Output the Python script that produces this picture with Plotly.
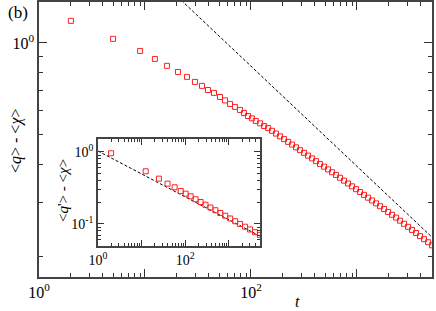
import plotly.graph_objects as go

# ---- main panel data ----
t_main = [2, 5, 9, 12.4, 16.1, 20.5, 24.9, 29.6, 34.5, 39.3, 44.8, 51.0, 56.9, 63.4, 70.6,
          78.7, 85.9, 93.7, 102, 111, 122, 133, 145, 158, 172, 188, 205, 224, 244, 266,
          290, 317, 345, 377, 411, 448, 489, 533, 582, 635, 692, 755, 824, 899, 980,
          1069, 1166, 1272, 1388, 1514, 1651, 1801, 1965, 2143, 2338, 2550, 2782, 3034,
          3310, 3611, 3938, 4296, 4686, 5112]
y_main = [1.181, 1.031, 0.941, 0.886, 0.841, 0.803, 0.774, 0.745, 0.723, 0.701, 0.686,
          0.665, 0.648, 0.631, 0.617, 0.603, 0.589, 0.576, 0.566, 0.555, 0.545, 0.534,
          0.526, 0.5152, 0.5046, 0.4942, 0.4840, 0.4740, 0.4643, 0.4547, 0.4453, 0.4362,
          0.4272, 0.4184, 0.4098, 0.4013, 0.3931, 0.3850, 0.3770, 0.3693, 0.3615, 0.3538,
          0.3463, 0.3389, 0.3317, 0.3247, 0.3178, 0.3111, 0.3045, 0.2980, 0.2917, 0.2855,
          0.2794, 0.2735, 0.2677, 0.2615, 0.2555, 0.2497, 0.2439, 0.2383, 0.2328, 0.2275,
          0.2223, 0.2172]
guide_main_t = [10, 5100]
guide_main_y = [1.786, 0.231]

# ---- inset data ----
t_inset = [2, 12.4, 24.9, 39.3, 56.9, 78.7, 102, 133, 172, 224, 290, 377, 489, 635, 824,
           1069, 1388, 1801, 2338, 3034, 3938, 5112]
y_inset = [0.959, 0.539, 0.426, 0.363, 0.323, 0.287, 0.2635, 0.2425, 0.2203, 0.2018,
           0.1849, 0.1693, 0.1551, 0.1421, 0.1301, 0.1192, 0.1092, 0.1000, 0.0916,
           0.0839, 0.0769, 0.0704]
guide_inset_t = [1, 5100]
guide_inset_y = [1.03, 0.068]

x_tickvals = [1, 10, 100, 1000]
x_ticktext = ["10<sup>0</sup>", "", "10<sup>2</sup>", ""]
x_minor = [m * 10 ** d for d in range(4) for m in range(2, 10)]
y_main_tickvals = [1]
y_main_ticktext = ["10<sup>0</sup>"]
y_main_minor = [m / 10 for m in range(2, 10)]
y_inset_tickvals = [0.1, 1]
y_inset_ticktext = ["10<sup>-1</sup>", "10<sup>0</sup>"]
y_inset_minor = [m / 100 for m in range(5, 10)] + [m / 10 for m in range(2, 10)]

X_RANGE = [0, 3.708]
Y_MAIN_RANGE = [-0.767, 0.134]
Y_INSET_RANGE = [-1.306, 0.1806]

RED = "#ff2020"
AX = "#444444"
TK = "#333333"
FONT = "Liberation Serif, Times New Roman, serif"

fig = go.Figure()
fig.add_trace(go.Scatter(x=guide_main_t, y=guide_main_y, mode="lines",
                         line=dict(color="black", width=1, dash="3px,2px"),
                         xaxis="x", yaxis="y", showlegend=False))
fig.add_trace(go.Scatter(x=t_main, y=y_main, mode="markers",
                         marker=dict(symbol="square-open", size=5, color=RED,
                                     line=dict(width=1, color=RED)),
                         xaxis="x", yaxis="y", showlegend=False))
fig.add_trace(go.Scatter(x=guide_inset_t, y=guide_inset_y, mode="lines",
                         line=dict(color="black", width=1, dash="3px,2px"),
                         xaxis="x2", yaxis="y2", showlegend=False))
fig.add_trace(go.Scatter(x=t_inset, y=y_inset, mode="markers",
                         marker=dict(symbol="square-open", size=5, color=RED,
                                     line=dict(width=1, color=RED)),
                         xaxis="x2", yaxis="y2", showlegend=False))
# invisible carriers so the mirrored (top/right) tick axes get drawn
fig.add_trace(go.Scatter(x=t_main, y=y_main, mode="markers", marker=dict(opacity=0),
                         hoverinfo="skip", xaxis="x3", yaxis="y3", showlegend=False))
fig.add_trace(go.Scatter(x=t_inset, y=y_inset, mode="markers", marker=dict(opacity=0),
                         hoverinfo="skip", xaxis="x4", yaxis="y4", showlegend=False))


def axis(rng, tv, tt, minor, ln, mln, fs, **kw):
    d = dict(type="log", range=rng, tickmode="array", tickvals=tv, ticktext=tt,
             ticks="inside", ticklen=ln, tickwidth=1.2, tickcolor=TK,
             showline=True, linecolor=AX, linewidth=1.5, mirror=True,
             showgrid=False, zeroline=False, automargin=False,
             tickfont=dict(family=FONT, size=fs, color="black"),
             minor=dict(tickmode="array", tickvals=minor, ticks="inside",
                        ticklen=mln, tickwidth=1.2, tickcolor=TK, showgrid=False))
    d.update(kw)
    return d


def mirror_axis(rng, tv, minor, ln, mln, **kw):
    d = dict(type="log", range=rng, tickmode="array", tickvals=tv, showticklabels=False,
             ticks="inside", ticklen=ln, tickwidth=1.2, tickcolor=TK,
             showline=False, showgrid=False, zeroline=False, automargin=False,
             minor=dict(tickmode="array", tickvals=minor, ticks="inside",
                        ticklen=mln, tickwidth=1.2, tickcolor=TK, showgrid=False))
    d.update(kw)
    return d


def label(text, x, y, size, angle=0):
    return dict(text=text, xref="paper", yref="paper", x=x, y=y, textangle=angle,
                xanchor="center", yanchor="middle", showarrow=False,
                font=dict(family=FONT, size=size, color="black"))


fig.update_layout(
    width=436, height=311,
    margin=dict(l=39, r=4, t=2, b=34),
    paper_bgcolor="white", plot_bgcolor="white",
    xaxis=axis(X_RANGE, x_tickvals, x_ticktext, x_minor, 8, 4, 16,
               domain=[0, 1], anchor="y"),
    yaxis=axis(Y_MAIN_RANGE, y_main_tickvals, y_main_ticktext, y_main_minor, 8, 4, 16,
               domain=[0, 1], anchor="x"),
    xaxis2=axis(X_RANGE, x_tickvals, x_ticktext, x_minor, 6, 3, 14,
                domain=[0.150, 0.562], anchor="y2"),
    yaxis2=axis(Y_INSET_RANGE, y_inset_tickvals, y_inset_ticktext, y_inset_minor, 6, 3, 14,
                domain=[0.1127, 0.502], anchor="x2"),
    xaxis3=mirror_axis(X_RANGE, x_tickvals, x_minor, 8, 4,
                       overlaying="x", side="top", anchor="y"),
    yaxis3=mirror_axis(Y_MAIN_RANGE, y_main_tickvals, y_main_minor, 8, 4,
                       overlaying="y", side="right", anchor="x"),
    xaxis4=mirror_axis(X_RANGE, x_tickvals, x_minor, 6, 3,
                       overlaying="x2", side="top", anchor="y2"),
    yaxis4=mirror_axis(Y_INSET_RANGE, y_inset_tickvals, y_inset_minor, 6, 3,
                       overlaying="y2", side="right", anchor="x2"),
    annotations=[
        label("&lt;<i>q</i>&gt; - &lt;<i>χ</i>&gt;", -0.0585, 0.4945, 16, -90),
        label("<i>t</i>", 0.6565, -0.0873, 16),
        label("(b)", -0.0534, 0.9636, 17),
        label("&lt;<i>q</i>'&gt; - &lt;<i>χ</i>&gt;", 0.061, 0.316, 15, -90),
    ],
)

fig.write_html("out.html", config={"displayModeBar": False},
               post_script="document.body.style.margin='0px';document.body.style.overflow='hidden';")
